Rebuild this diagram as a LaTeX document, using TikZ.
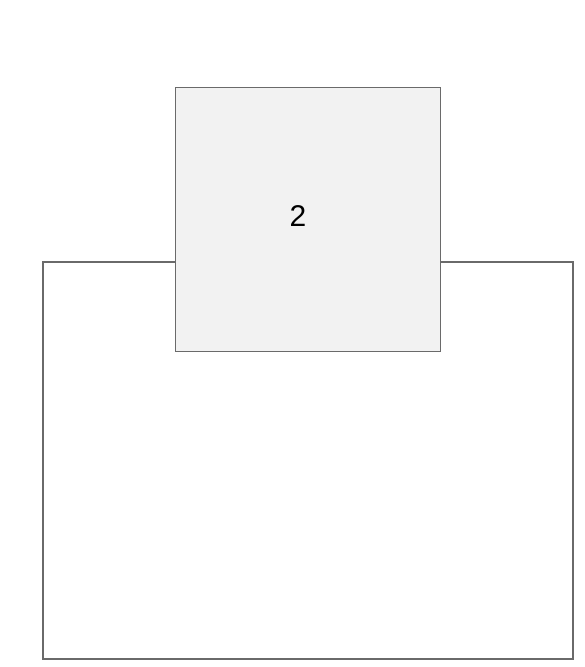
\documentclass[tikz,border=0pt]{standalone}
\usepackage{fontspec}
\setmainfont{Liberation Sans}
\definecolor{edge}{HTML}{6A6A6A}
\definecolor{boxfill}{HTML}{F2F2F2}
\begin{document}
\begin{tikzpicture}[x=1pt,y=-1pt,
  outerbox/.style={draw=edge,line width=1.3pt,fill=white},
  innerbox/.style={draw=edge,line width=1.3pt,fill=boxfill}]
\useasboundingbox (0,0) rectangle (585,667);
\fill[white] (0,0) rectangle (585,667);
\draw[outerbox] (43,262) rectangle (573,659);
\node[innerbox,minimum width=265pt,minimum height=264pt,inner sep=0pt,anchor=north west] (two) at (175,87) {};
\node[font=\fontsize{30}{36}\selectfont] (lbl) at (298,216) {2};
\end{tikzpicture}
\end{document}
